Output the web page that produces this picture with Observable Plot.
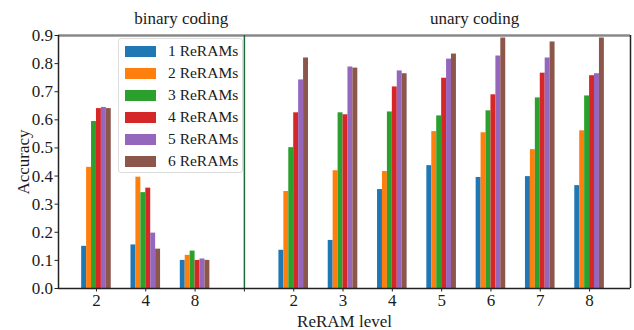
<!DOCTYPE html>
<html>
<head>
<meta charset="utf-8">
<script src="https://cdn.jsdelivr.net/npm/d3@7"></script>
<script src="https://cdn.jsdelivr.net/npm/@observablehq/plot@0.6"></script>
<style>
  body { margin: 0; background: #fff; }
  #wrap { position: relative; width: 634px; height: 330px; font-family: 'Liberation Serif', serif; }
  #wrap svg, #wrap svg text { font-family: 'Liberation Serif', serif !important; }
  #legend { position: absolute; left: 118px; top: 38px; width: 125px; height: 135px; background: rgba(255,255,255,0.85);
            border: 1px solid #dcdcdc; border-radius: 3px; box-sizing: border-box; font-family: 'Liberation Serif', serif; }
  .row { position: absolute; left: 6px; height: 22px; display: flex; align-items: center; font-size: 15.5px; color: #1a1a1a; }
  .sw { width: 31px; height: 11px; margin-right: 12px; }
</style>
</head>
<body>
<div id="wrap"></div>
<script>
const binaryLevels = ["2", "4", "8"];
const unaryLevels = ["2", "3", "4", "5", "6", "7", "8"];
const seriesNames = ["1 ReRAMs", "2 ReRAMs", "3 ReRAMs", "4 ReRAMs", "5 ReRAMs", "6 ReRAMs"];
const seriesColors = ["#1f77b4", "#ff7f0e", "#2ca02c", "#d62728", "#9467bd", "#8c564b"];
// values[series][level]
const binaryValues = [
  [0.150, 0.155, 0.100],
  [0.431, 0.396, 0.118],
  [0.594, 0.341, 0.133],
  [0.640, 0.357, 0.100],
  [0.644, 0.197, 0.105],
  [0.640, 0.140, 0.100]
];
const unaryValues = [
  [0.136, 0.171, 0.352, 0.437, 0.395, 0.398, 0.366],
  [0.345, 0.419, 0.416, 0.558, 0.554, 0.494, 0.561],
  [0.501, 0.625, 0.628, 0.614, 0.632, 0.678, 0.685],
  [0.625, 0.618, 0.717, 0.748, 0.689, 0.766, 0.757],
  [0.742, 0.788, 0.774, 0.816, 0.827, 0.820, 0.764],
  [0.820, 0.784, 0.764, 0.834, 0.891, 0.877, 0.891]
];
const yTicks = [0, 0.1, 0.2, 0.3, 0.4, 0.5, 0.6, 0.7, 0.8, 0.9];

// positions: binary groups at 0..2, separator at 3, unary groups at 4..10
const groups = [
  ...binaryLevels.map((l, i) => ({label: l, pos: i, coding: "binary", idx: i})),
  ...unaryLevels.map((l, i) => ({label: l, pos: binaryLevels.length + 1 + i, coding: "unary", idx: i}))
];
const sepPos = binaryLevels.length;
const barW = 0.1;
const bars = [];
for (const g of groups) {
  seriesNames.forEach((s, j) => {
    const v = g.coding === "binary" ? binaryValues[j][g.idx] : unaryValues[j][g.idx];
    const x1 = g.pos + (j - (seriesNames.length - 1) / 2) * barW - barW / 2;
    bars.push({x1, x2: x1 + barW, y: v, series: s});
  });
}
const tickPos = [...groups.map(g => g.pos), sepPos];
const tickLab = new Map(groups.map(g => [g.pos, g.label]));
const xDom = [-0.77, 10.83];

const chart = Plot.plot({
  width: 634,
  height: 330,
  marginLeft: 58,
  marginRight: 4,
  marginTop: 35,
  marginBottom: 42,
  style: {fontFamily: "'Liberation Serif', serif", fontSize: "17px", color: "#1a1a1a", background: "white"},
  x: {domain: xDom, axis: null},
  y: {domain: [0, 0.9], axis: null},
  color: {domain: seriesNames, range: seriesColors},
  marks: [
    Plot.rectY(bars, {x1: "x1", x2: "x2", y: "y", fill: "series"}),
    Plot.ruleY([0.9], {stroke: "#888", strokeWidth: 2.5}),
    Plot.ruleX([sepPos], {stroke: "#1b6b3c", strokeWidth: 1.5}),
    Plot.ruleX([xDom[1]], {stroke: "#222", strokeWidth: 1.5}),
    Plot.ruleX([xDom[0]], {stroke: "#222", strokeWidth: 1.5}),
    Plot.ruleY([0], {stroke: "#222", strokeWidth: 1.5}),
    Plot.axisY({ticks: yTicks, tickFormat: d3.format(".1f"), tickSize: 3.5, tickPadding: 2, fontSize: 17,
      label: "Accuracy", labelAnchor: "center", labelArrow: "none", labelOffset: 42, stroke: "#222"}),
    Plot.axisX({ticks: tickPos, tickFormat: d => tickLab.get(d) ?? "", tickSize: 3.5, tickPadding: 2, fontSize: 17,
      label: "ReRAM level", labelAnchor: "center", labelArrow: "none", labelOffset: 38, stroke: "#222"}),
    Plot.text(["binary coding"], {x: 1.72, frameAnchor: "top", lineAnchor: "bottom", dy: -12, fontSize: 17, fill: "#1a1a1a"}),
    Plot.text(["unary coding"], {x: 7.67, frameAnchor: "top", lineAnchor: "bottom", dy: -12, fontSize: 17, fill: "#1a1a1a"})
  ]
});
const wrap = document.getElementById("wrap");
wrap.appendChild(chart);

const legend = document.createElement("div");
legend.id = "legend";
seriesNames.forEach((s, j) => {
  const r = document.createElement("div");
  r.className = "row";
  r.style.top = (1 + j * 22) + "px";
  const sw = document.createElement("div");
  sw.className = "sw";
  sw.style.background = seriesColors[j];
  r.appendChild(sw);
  r.appendChild(document.createTextNode(s));
  legend.appendChild(r);
});
wrap.appendChild(legend);
</script>
</body>
</html>
